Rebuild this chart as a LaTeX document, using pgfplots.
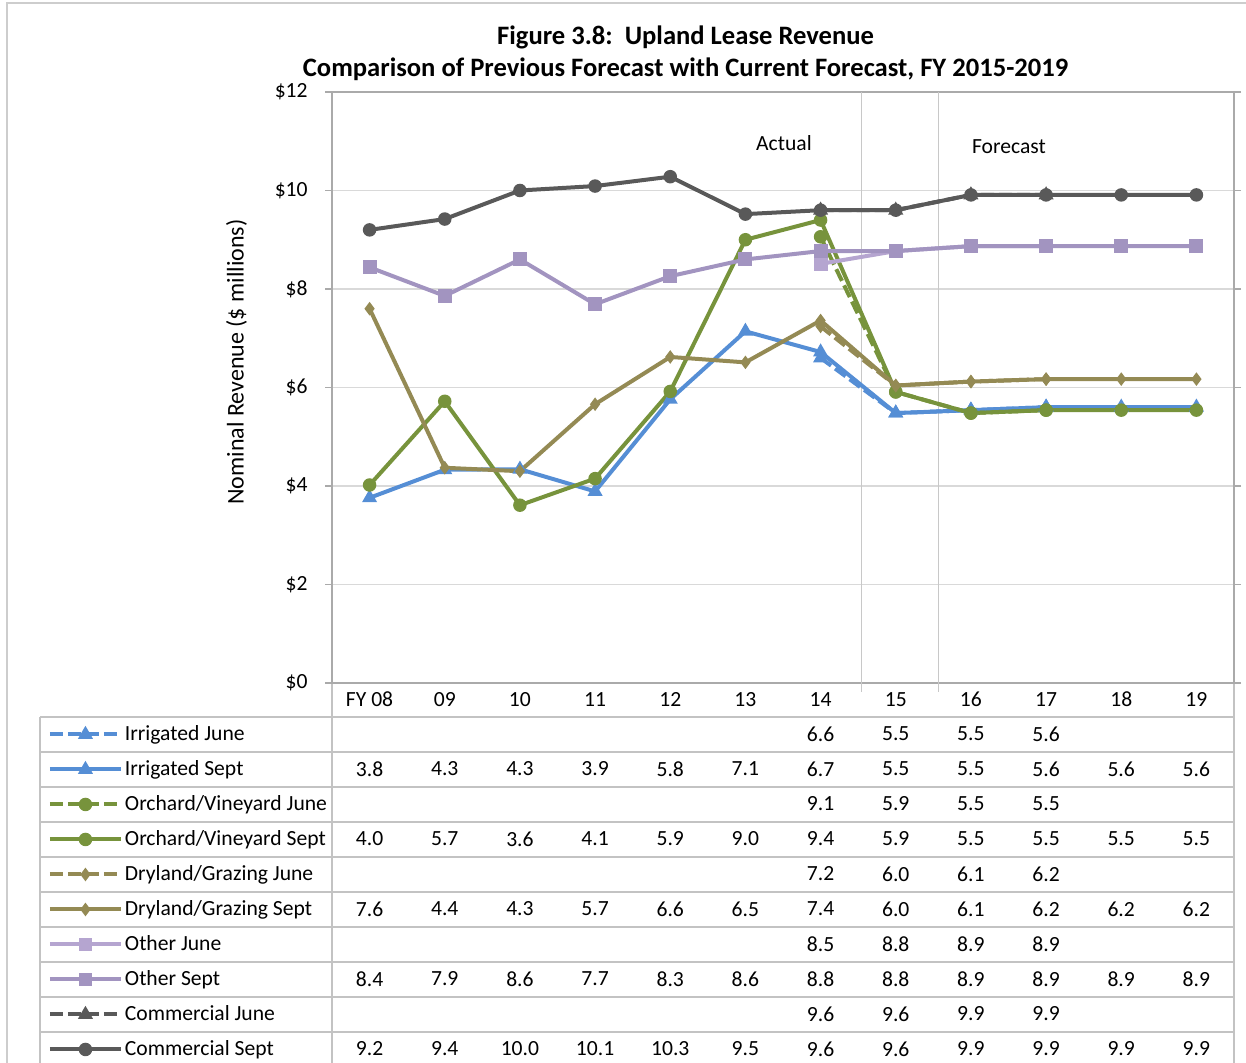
\documentclass[border=0pt]{standalone}
\usepackage{fontspec}
\setmainfont{Carlito}
\usepackage{pgfplots}
\pgfplotsset{compat=1.18}
\definecolor{irr}{RGB}{85,142,213}
\definecolor{orch}{RGB}{119,147,60}
\definecolor{dry}{RGB}{148,138,84}
\definecolor{othS}{RGB}{162,148,192}
\definecolor{othJ}{RGB}{181,165,208}
\definecolor{comm}{RGB}{89,89,89}
\definecolor{gridc}{RGB}{217,217,217}
\definecolor{divc}{RGB}{200,200,200}
\definecolor{axisc}{RGB}{170,170,170}
\definecolor{tblc}{RGB}{195,195,195}
\definecolor{framec}{RGB}{205,205,205}
\newcommand{\fs}{\fontsize{10.8}{13}\selectfont}
\pgfplotsset{
  ser/.style={line width=2pt, mark options={solid, line width=0.75pt}},
  jun/.style={line width=2pt, dash pattern=on 6.5pt off 2.5pt, mark options={solid, line width=0.75pt}},
}
\begin{document}
\begin{tikzpicture}
\path[use as bounding box] (0,0) rectangle (623pt,531.5pt);
\draw[color=framec, line width=0.75pt] (3.5pt,0) -- (3.5pt,530pt) -- (623pt,530pt);
% table grid
\foreach \k in {0,...,9} {\draw[color=tblc, line width=1pt] (20pt,{(173-17.5*\k)*1pt}) -- (617pt,{(173-17.5*\k)*1pt});}
\draw[color=tblc, line width=1pt] (20pt,173pt) -- (20pt,0pt);
\draw[color=tblc, line width=1pt] (166pt,190pt) -- (166pt,0pt);
\draw[color=tblc, line width=1pt] (617pt,190pt) -- (617pt,0pt);
\begin{axis}[
  at={(166pt,190pt)}, anchor=south west, scale only axis,
  width=451pt, height=295.5pt,
  xmin=-0.5, xmax=11.5, ymin=0, ymax=12,
  xtick={0,...,11}, xticklabels={FY 08,09,10,11,12,13,14,15,16,17,18,19},
  ytick={0,2,...,12}, yticklabels={\$0,\$2,\$4,\$6,\$8,\$10,\$12},
  ymajorgrids, grid style={color=gridc, line width=0.75pt},
  axis line style={color=axisc, line width=1.25pt},
  xtick style={draw=none},
  ytick style={color=axisc, line width=0.75pt},
  tick align=outside, major tick length=3.5pt,
  tick label style={font=\fs},
  yticklabel style={inner sep=0pt, xshift=-8.5pt},
  xticklabel style={anchor=base, inner sep=0pt, yshift=-8.5pt},
  clip=false,
  title={Figure 3.8:\ \ Upland Lease Revenue\\Comparison of Previous Forecast with Current Forecast, FY 2015-2019},
  title style={at={(axis description cs:0.392,1.0457)}, anchor=center, align=center, font=\bfseries\fontsize{13.3}{16}\selectfont},
  ylabel={Nominal Revenue (\$ millions)},
  every axis y label/.style={at={(axis description cs:-0.106,0.543)}, rotate=90, anchor=center, font=\fontsize{12}{14}\selectfont},
  legend style={at={(axis description cs:-0.3149,-0.0575)}, anchor=north west, draw=none, fill=none,
    inner sep=0pt, outer sep=0pt, row sep=0pt, font=\fs,
    nodes={inner sep=0pt, minimum height=17.5pt},
    /tikz/every odd column/.append style={column sep=1pt}},
  legend cell align=left,
  legend image code/.code={\draw[mark repeat=2,mark phase=2,#1] plot coordinates {(0pt,0pt)(17.75pt,0pt)(35.5pt,0pt)};},
]
\addplot[forget plot, color=divc, line width=0.6pt] coordinates {(6.54,-0.18)(6.54,12)};
\addplot[forget plot, color=divc, line width=0.6pt] coordinates {(7.57,-0.18)(7.57,12)};
% Irrigated
\addplot[jun, color=irr, mark=triangle*, mark size=3.6pt] coordinates {(6,6.60)(7,5.48)(8,5.54)(9,5.60)};
\addlegendentry{Irrigated June}
\addplot[ser, color=irr, mark=triangle*, mark size=3.6pt] coordinates {(0,3.76)(1,4.33)(2,4.34)(3,3.89)(4,5.76)(5,7.14)(6,6.72)(7,5.48)(8,5.54)(9,5.60)(10,5.60)(11,5.60)};
\addlegendentry{Irrigated Sept}
% Orchard
\addplot[jun, color=orch, mark=*, mark size=3pt] coordinates {(6,9.06)(7,5.91)(8,5.48)(9,5.54)};
\addlegendentry{Orchard/Vineyard June}
\addplot[ser, color=orch, mark=*, mark size=3pt] coordinates {(0,4.02)(1,5.72)(2,3.61)(3,4.15)(4,5.92)(5,9.00)(6,9.40)(7,5.91)(8,5.48)(9,5.54)(10,5.54)(11,5.54)};
\addlegendentry{Orchard/Vineyard Sept}
% Dryland
\addplot[jun, color=dry, mark=diamond*, mark size=2.8pt] coordinates {(6,7.24)(7,6.04)(8,6.12)(9,6.17)};
\addlegendentry{Dryland/Grazing June}
\addplot[ser, color=dry, mark=diamond*, mark size=2.8pt] coordinates {(0,7.60)(1,4.37)(2,4.30)(3,5.66)(4,6.62)(5,6.51)(6,7.36)(7,6.04)(8,6.12)(9,6.17)(10,6.17)(11,6.17)};
\addlegendentry{Dryland/Grazing Sept}
% Other
\addplot[ser, color=othJ, mark=square*, mark size=3.1pt] coordinates {(6,8.51)(7,8.77)(8,8.87)(9,8.87)};
\addlegendentry{Other June}
\addplot[ser, color=othS, mark=square*, mark size=3.1pt] coordinates {(0,8.44)(1,7.86)(2,8.60)(3,7.69)(4,8.26)(5,8.60)(6,8.77)(7,8.77)(8,8.87)(9,8.87)(10,8.87)(11,8.87)};
\addlegendentry{Other Sept}
% Commercial
\addplot[jun, color=comm, mark=triangle*, mark size=3.6pt] coordinates {(6,9.60)(7,9.60)(8,9.91)(9,9.91)};
\addlegendentry{Commercial June}
\addplot[ser, color=comm, mark=*, mark size=3pt] coordinates {(0,9.20)(1,9.42)(2,10.00)(3,10.09)(4,10.28)(5,9.52)(6,9.60)(7,9.60)(8,9.91)(9,9.91)(10,9.91)(11,9.91)};
\addlegendentry{Commercial Sept}
\node[font=\fs] at (axis cs:5.513,10.96) {Actual};
\node[font=\fs] at (axis cs:8.506,10.88) {Forecast};
\end{axis}
% table values
\newcommand{\tv}[2]{\foreach \i/\v in {#2} {\node[font=\fs, inner sep=0pt] at ({(184.8+37.58*\i)*1pt},{(164.5-17.5*#1)*1pt}) {\v};}}
\tv{0}{6/6.6,7/5.5,8/5.5,9/5.6}
\tv{1}{0/3.8,1/4.3,2/4.3,3/3.9,4/5.8,5/7.1,6/6.7,7/5.5,8/5.5,9/5.6,10/5.6,11/5.6}
\tv{2}{6/9.1,7/5.9,8/5.5,9/5.5}
\tv{3}{0/4.0,1/5.7,2/3.6,3/4.1,4/5.9,5/9.0,6/9.4,7/5.9,8/5.5,9/5.5,10/5.5,11/5.5}
\tv{4}{6/7.2,7/6.0,8/6.1,9/6.2}
\tv{5}{0/7.6,1/4.4,2/4.3,3/5.7,4/6.6,5/6.5,6/7.4,7/6.0,8/6.1,9/6.2,10/6.2,11/6.2}
\tv{6}{6/8.5,7/8.8,8/8.9,9/8.9}
\tv{7}{0/8.4,1/7.9,2/8.6,3/7.7,4/8.3,5/8.6,6/8.8,7/8.8,8/8.9,9/8.9,10/8.9,11/8.9}
\tv{8}{6/9.6,7/9.6,8/9.9,9/9.9}
\tv{9}{0/9.2,1/9.4,2/10.0,3/10.1,4/10.3,5/9.5,6/9.6,7/9.6,8/9.9,9/9.9,10/9.9,11/9.9}
\end{tikzpicture}
\end{document}
